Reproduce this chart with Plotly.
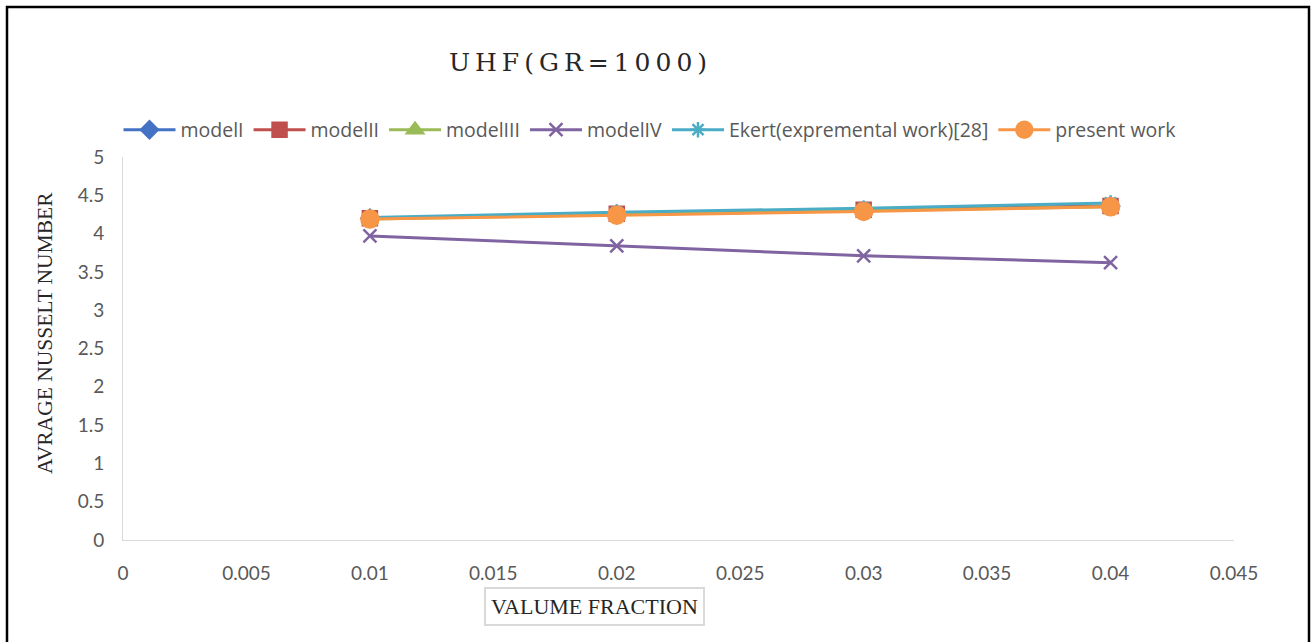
import plotly.graph_objects as go

volume_fraction = [0.01, 0.02, 0.03, 0.04]
model_i = [4.20, 4.25, 4.30, 4.36]
model_ii = [4.20, 4.26, 4.31, 4.36]
model_iii = [4.19, 4.25, 4.30, 4.35]
model_iv = [3.97, 3.84, 3.71, 3.62]
ekert = [4.21, 4.28, 4.33, 4.40]
present_work = [4.19, 4.24, 4.29, 4.35]

x_tick_vals = [0, 0.005, 0.01, 0.015, 0.02, 0.025, 0.03, 0.035, 0.04, 0.045]
x_tick_text = ["0", "0.005", "0.01", "0.015", "0.02", "0.025", "0.03", "0.035", "0.04", "0.045"]
y_tick_vals = [0, 0.5, 1, 1.5, 2, 2.5, 3, 3.5, 4, 4.5, 5]
y_tick_text = ["0", "0.5", "1", "1.5", "2", "2.5", "3", "3.5", "4", "4.5", "5"]

series = [
    ("modelI", model_i, "#4472C4", "diamond", 13),
    ("modelII", model_ii, "#C0504D", "square", 14),
    ("modelIII", model_iii, "#9BBB59", "triangle-up", 14),
    ("modelIV", model_iv, "#8064A2", "x-thin", 13),
    ("Ekert(expremental work)[28]", ekert, "#4BACC6", "asterisk", 13),
    ("present work", present_work, "#F79646", "circle", 17),
]

fig = go.Figure()
for name, vals, color, sym, size in series:
    fig.add_trace(go.Scatter(
        x=volume_fraction, y=vals, name=name, mode="lines+markers",
        line=dict(color=color, width=3),
        marker=dict(symbol=sym, size=size, color=color,
                    line=dict(color=color, width=2.5)),
    ))

# plot area geometry (pixels) for placing texts
L, R, T, B = 123, 77, 157, 102
W, H = 1311 - L - R, 642 - T - B

def px(x):
    return (x - L) / W

def py(y):
    return (642 - B - y) / H

fig.update_layout(
    width=1311, height=642,
    margin=dict(l=L, r=R, t=T, b=B),
    paper_bgcolor="white", plot_bgcolor="white",
    font=dict(family="Lato, Open Sans, sans-serif", color="#595959", size=19),
    showlegend=True,
    legend=dict(orientation="h", x=px(650), xanchor="center", y=py(130), yanchor="middle",
                font=dict(family="Open Sans", size=19.5, color="#595959"), itemwidth=52,
                tracegroupgap=0, bgcolor="rgba(0,0,0,0)"),
    xaxis=dict(range=[0, 0.045], tickvals=x_tick_vals, ticktext=x_tick_text,
               showgrid=False, zeroline=False, showline=True, linecolor="#D9D9D9", linewidth=1,
               ticks="outside", ticklen=16, tickcolor="rgba(0,0,0,0)",
               tickfont=dict(size=19, color="#595959")),
    yaxis=dict(range=[0, 5], tickvals=y_tick_vals, ticktext=y_tick_text,
               showgrid=False, zeroline=False, showline=True, linecolor="#D9D9D9", linewidth=1,
               ticks="outside", ticklen=14, tickcolor="rgba(0,0,0,0)",
               tickfont=dict(size=19, color="#595959")),
    annotations=[
        dict(text='<span style="letter-spacing:5px">UHF(GR=1000)</span>', x=px(580), y=py(62),
             xref="paper", yref="paper", xanchor="center", yanchor="middle",
             showarrow=False, font=dict(family="DejaVu Serif", size=25, color="#262626")),
        dict(text="AVRAGE NUSSELT NUMBER", x=px(45), y=py(333), xref="paper", yref="paper",
             xanchor="center", yanchor="middle",
             showarrow=False, textangle=-90,
             font=dict(family="Liberation Serif", size=21.5, color="#262626")),
        dict(text="VALUME FRACTION", x=px(594), y=py(606), xref="paper", yref="paper",
             xanchor="center", yanchor="middle",
             showarrow=False, bordercolor="#D9D9D9", borderwidth=2, borderpad=5,
             font=dict(family="Liberation Serif", size=22, color="#262626")),
    ],
    shapes=[
        dict(type="rect", xref="paper", yref="paper",
             x0=px(7), x1=px(1309), y0=py(650), y1=py(7),
             line=dict(color="black", width=2.5), fillcolor="rgba(0,0,0,0)"),
    ],
)

fig.write_html("out.html", config={"displayModeBar": False},
               post_script="document.body.style.margin='0';")
